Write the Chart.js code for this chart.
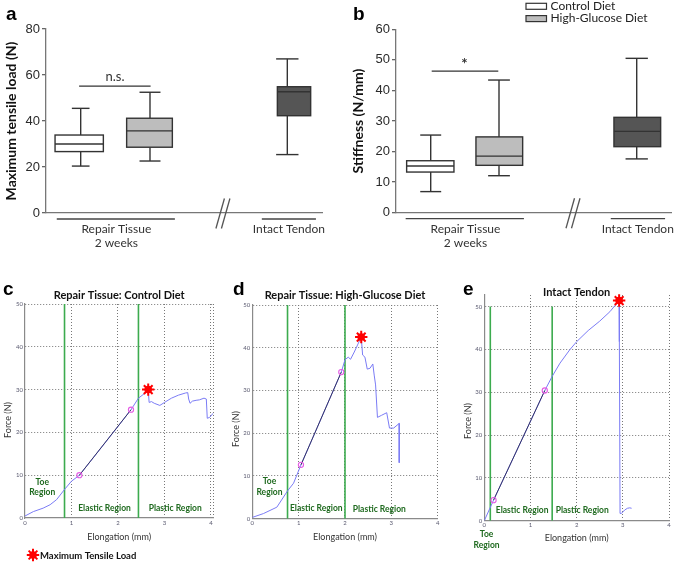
<!DOCTYPE html>
<html><head><meta charset="utf-8">
<script src="https://cdn.jsdelivr.net/npm/chart.js@4.4.1/dist/chart.umd.min.js"></script>
<style>
html,body{margin:0;padding:0;background:#fff;width:675px;height:563px;overflow:hidden;}
canvas{position:absolute;}
</style></head><body>
<canvas id="ca" style="left:0;top:0" width="335" height="260"></canvas>
<canvas id="cb" style="left:340px;top:0" width="335" height="260"></canvas>
<canvas id="cc" style="left:0;top:280px" width="230" height="283"></canvas>
<canvas id="cd" style="left:230px;top:280px" width="220" height="283"></canvas>
<canvas id="ce" style="left:450px;top:280px" width="225" height="283"></canvas>
<script>
// ================= DATA =================
const groupNames = ['Control Diet', 'High-Glucose Diet', 'Intact Tendon'];
const xGroupLabels = ['Repair Tissue\n2 weeks', 'Intact Tendon'];

// (a) Maximum tensile load (N)
const loadMin    = [20.4, 22.6, 25.4];
const loadQ1     = [26.7, 28.6, 42.3];
const loadMedian = [30.0, 35.7, 52.7];
const loadQ3     = [33.9, 41.2, 54.9];
const loadMax    = [45.5, 52.5, 67.0];
const loadTicks  = [0, 20, 40, 60, 80];
const loadSig    = {text: 'n.s.', value: 55.2, textValue: 59.3};

// (b) Stiffness (N/mm)
const stiffMin    = [6.9, 12.1, 17.6];
const stiffQ1     = [13.3, 15.5, 21.6];
const stiffMedian = [15.3, 18.5, 26.6];
const stiffQ3     = [17.0, 24.8, 31.2];
const stiffMax    = [25.4, 43.4, 50.5];
const stiffTicks  = [0, 10, 20, 30, 40, 50, 60];
const stiffSig    = {text: '*', value: 46.3, textValue: 48.6};

// (c-e) force-elongation curves
const elongTicks = [0, 1, 2, 3, 4];
const forceTicks = [0, 10, 20, 30, 40, 50];
const regionNames = ['Toe\nRegion', 'Elastic Region', 'Plastic Region'];
const peakLabel = 'Maximum Tensile Load';

const ctrlElong = [0, 0.18, 0.39, 0.54, 0.68, 0.86, 1.0, 1.17, 1.5, 1.9, 2.28, 2.44, 2.62, 2.65, 2.67, 2.72, 2.78, 2.9, 3.0, 3.15, 3.3, 3.45, 3.5, 3.52, 3.55, 3.6, 3.68, 3.75, 3.85, 3.9, 3.92, 3.97, 4.05];
const ctrlForce = [0.47, 1.5, 2.3, 3.1, 4.3, 6.8, 8.6, 10.0, 14.5, 20.0, 25.3, 28.0, 29.5, 30.0, 27.0, 27.2, 26.8, 26.3, 27.0, 28.0, 28.7, 29.2, 29.3, 27.8, 26.8, 27.3, 27.5, 27.6, 28.0, 27.8, 23.3, 23.5, 24.5];
const ctrlFitElong = [1.17, 2.28];
const ctrlFitForce = [10.0, 25.3];
const ctrlBounds = [0.85, 2.44];
const ctrlPeak = [2.65, 30.0];

const hgElong = [0, 0.24, 0.53, 0.76, 0.89, 1.05, 1.4, 1.7, 1.92, 2.0, 2.07, 2.12, 2.2, 2.35, 2.38, 2.43, 2.48, 2.54, 2.6, 2.63, 2.66, 2.7, 2.79, 2.9, 2.96, 3.05, 3.17, 3.17];
const hgForce = [0.3, 1.2, 2.7, 6.5, 8.3, 12.6, 21.3, 28.8, 34.3, 37.2, 37.8, 37.3, 39.0, 42.5, 38.3, 37.8, 35.0, 35.2, 36.2, 33.6, 31.3, 23.7, 24.2, 24.8, 21.2, 21.2, 22.3, 13.1];
const hgFitElong = [1.05, 1.92];
const hgFitForce = [12.6, 34.3];
const hgBounds = [0.76, 2.0];
const hgPeak = [2.35, 42.5];

const intElong = [0, 0.2, 0.5, 0.8, 1.1, 1.31, 1.47, 1.64, 1.85, 2.0, 2.25, 2.5, 2.72, 2.92, 2.925, 2.94, 2.97, 3.04, 3.1, 3.15, 3.19];
const intForce = [0, 4.8, 11.7, 18.6, 25.5, 30.4, 33.7, 36.8, 39.9, 41.8, 44.4, 46.6, 48.8, 51.4, 41.8, 1.7, 1.7, 2.5, 2.9, 3.0, 2.9];
const intFitElong = [0.2, 1.31];
const intFitForce = [4.8, 30.4];
const intBounds = [0.13, 1.47];
const intPeak = [2.92, 51.4];

// ================= STYLE / LAYOUT =================
const boxFills = ['#ffffff', '#bdbdbd', '#555555'];
const INK = '#333333';

const layoutA = {
  W: 335, H: 260, area: {l: 46, t: 29, r: 322, b: 213}, yTitlePad: 3.3,
  centers: [1.203, 3.75, 8.986], widths: [1.75, 1.656, 1.207],
  whiskerX: [1.257, 3.768, 8.743], capW: [0.64, 0.76, 0.81],
  sigFrom: 1.2, sigTo: 3.79, sigTextX: 2.5, sigFont: '13px Lato',
  groupLines: [[0.39, 4.67], [7.82, 9.78]], groupCenters: [2.55, 8.8], breakX: 6.41,
  letter: 'a', letterX: 6, letterY: 20, legend: false
};
const layoutB = {
  W: 335, H: 260, area: {l: 56, t: 29.3, r: 331.7, b: 212.7}, yTitlePad: 9.9,
  centers: [1.244, 3.747, 8.752], widths: [1.716, 1.694, 1.694],
  whiskerX: [1.259, 3.736, 8.731], capW: [0.76, 0.79, 0.81],
  sigFrom: 1.295, sigTo: 3.71, sigTextX: 2.48, sigFont: 'bold 15px Lato',
  groupLines: [[0.35, 4.64], [7.79, 9.76]], groupCenters: [2.52, 8.77], breakX: 6.42,
  letter: 'b', letterX: 13, letterY: 20, legend: true
};

function line(ctx, x1, y1, x2, y2) { ctx.beginPath(); ctx.moveTo(x1, y1); ctx.lineTo(x2, y2); ctx.stroke(); }

const boxPlugin = {
  id: 'boxes',
  afterDatasetsDraw(chart, args, o) {
    const {ctx, chartArea, scales: {x, y}} = chart;
    const L = o.layout, d = o.data;
    ctx.save();
    ctx.lineWidth = 1.4; ctx.strokeStyle = INK;
    for (let i = 0; i < d.median.length; i++) {
      const wx = x.getPixelForValue(L.whiskerX[i]);
      const cw = (x.getPixelForValue(L.capW[i]) - x.getPixelForValue(0)) / 2;
      line(ctx, wx, y.getPixelForValue(d.max[i]), wx, y.getPixelForValue(d.q3[i]));
      line(ctx, wx, y.getPixelForValue(d.q1[i]), wx, y.getPixelForValue(d.min[i]));
      line(ctx, wx - cw, y.getPixelForValue(d.max[i]), wx + cw, y.getPixelForValue(d.max[i]));
      line(ctx, wx - cw, y.getPixelForValue(d.min[i]), wx + cw, y.getPixelForValue(d.min[i]));
      const l = x.getPixelForValue(L.centers[i] - L.widths[i] / 2);
      const r = x.getPixelForValue(L.centers[i] + L.widths[i] / 2);
      const t = y.getPixelForValue(d.q3[i]), b = y.getPixelForValue(d.q1[i]);
      ctx.fillStyle = boxFills[i];
      ctx.fillRect(l, t, r - l, b - t);
      ctx.strokeRect(l, t, r - l, b - t);
      const m = y.getPixelForValue(d.median[i]);
      line(ctx, l, m, r, m);
    }
    // significance bar
    const sy = y.getPixelForValue(o.sig.value);
    ctx.lineWidth = 1.3;
    line(ctx, x.getPixelForValue(L.sigFrom), sy, x.getPixelForValue(L.sigTo), sy);
    ctx.fillStyle = INK; ctx.font = L.sigFont; ctx.textAlign = 'center'; ctx.textBaseline = 'middle';
    ctx.fillText(o.sig.text, x.getPixelForValue(L.sigTextX), y.getPixelForValue(o.sig.textValue));
    // group underlines and labels
    const by = chartArea.bottom;
    ctx.strokeStyle = '#444'; ctx.lineWidth = 1.3;
    L.groupLines.forEach(g => line(ctx, x.getPixelForValue(g[0]), by + 6, x.getPixelForValue(g[1]), by + 6));
    ctx.fillStyle = '#333'; ctx.font = '12px Lato';
    xGroupLabels.forEach((lab, i) => {
      lab.split('\n').forEach((t, j) => ctx.fillText(t, x.getPixelForValue(L.groupCenters[i]), by + 16.5 + j * 13.5));
    });
    // axis break marks
    const cx = x.getPixelForValue(L.breakX);
    ctx.strokeStyle = '#555'; ctx.lineWidth = 1.3;
    line(ctx, cx - 7, by + 15.5, cx + 1.5, by - 14.5);
    line(ctx, cx - 1.5, by + 15.5, cx + 7, by - 14.5);
    // panel letter
    ctx.fillStyle = '#000'; ctx.font = 'bold 19px "Liberation Sans"'; ctx.textAlign = 'left'; ctx.textBaseline = 'alphabetic';
    ctx.fillText(L.letter, L.letterX, L.letterY);
    // legend
    if (L.legend) {
      ctx.font = '12px Lato'; ctx.textBaseline = 'middle'; ctx.lineWidth = 1.2; ctx.strokeStyle = INK;
      [0, 1].forEach(i => {
        const yy = 6.3 + i * 12.3;
        ctx.fillStyle = boxFills[i];
        ctx.fillRect(186, yy - 3, 20.5, 6); ctx.strokeRect(186, yy - 3, 20.5, 6);
        ctx.fillStyle = '#222'; ctx.fillText(groupNames[i], 210.5, yy);
      });
    }
    ctx.restore();
  }
};

function boxChart(id, L, d, sig, ticks, yTitle) {
  const yMax = ticks[ticks.length - 1];
  return new Chart(document.getElementById(id), {
    type: 'scatter',
    data: {datasets: [{data: d.median.map((m, i) => ({x: L.centers[i], y: m})), pointRadius: 0, pointHoverRadius: 0}]},
    options: {
      responsive: false, animation: false, devicePixelRatio: 1, events: [],
      layout: {padding: {left: 0, top: L.area.t, right: L.W - L.area.r, bottom: 0}},
      plugins: {legend: {display: false}, tooltip: {enabled: false}, boxes: {layout: L, data: d, sig: sig}},
      scales: {
        x: {type: 'linear', min: 0, max: 10, ticks: {display: false}, grid: {display: false},
            border: {display: true, color: '#777', width: 1.3},
            afterFit: s => { s.height = L.H - L.area.b; }},
        y: {type: 'linear', min: 0, max: yMax,
            afterBuildTicks: s => { s.ticks = ticks.map(v => ({value: v})); },
            ticks: {font: {family: 'Liberation Sans', size: 13}, color: '#2a2a2a', padding: 2},
            grid: {drawOnChartArea: false, drawTicks: true, tickLength: 4, color: '#666', lineWidth: 1.3},
            border: {display: true, color: '#777', width: 1.3},
            title: {display: true, text: yTitle, color: '#111', font: {family: 'Lato', weight: 'bold', size: 14}, padding: {top: L.yTitlePad, bottom: 0}},
            afterFit: s => { s.width = L.area.l; }}
      }
    },
    plugins: [boxPlugin]
  });
}

boxChart('ca', layoutA, {min: loadMin, q1: loadQ1, median: loadMedian, q3: loadQ3, max: loadMax}, loadSig, loadTicks, 'Maximum tensile load (N)');
boxChart('cb', layoutB, {min: stiffMin, q1: stiffQ1, median: stiffMedian, q3: stiffQ3, max: stiffMax}, stiffSig, stiffTicks, 'Stiffness (N/mm)');

// ---------- curves ----------
const GREEN = '#3cab4e', BLUE = '#7b7cf5', FIT = '#2a2a55', PINK = '#e45be4', RED = '#ff0000', REGION = '#1f6a1f';

function drawStar(ctx, px, py) {
  ctx.save();
  ctx.fillStyle = RED; ctx.strokeStyle = RED;
  ctx.beginPath(); ctx.arc(px, py, 3.8, 0, Math.PI * 2); ctx.fill();
  ctx.lineWidth = 2;
  Chart.helpers.drawPoint(ctx, {pointStyle: 'star', radius: 6.2, borderWidth: 2, rotation: 0}, px, py);
  ctx.restore();
}

const curvePlugin = {
  id: 'curveDecor',
  afterDraw(chart, args, o) {
    const {ctx, chartArea, scales: {x, y}} = chart;
    ctx.save();
    ctx.fillStyle = '#000'; ctx.font = 'bold 19px "Liberation Sans"'; ctx.textAlign = 'left'; ctx.textBaseline = 'alphabetic';
    ctx.fillText(o.letter, o.letterX, 15);
    ctx.font = 'bold 11px Lato'; ctx.textAlign = 'center'; ctx.textBaseline = 'middle'; ctx.fillStyle = '#111';
    ctx.fillText(o.title, (chartArea.left + chartArea.right) / 2, o.titleY);
    ctx.save(); ctx.translate(o.yTitleX, o.yTitleY); ctx.rotate(-Math.PI / 2);
    ctx.font = '9px Lato'; ctx.fillStyle = '#333'; ctx.fillText('Force (N)', 0, 0); ctx.restore();
    ctx.fillStyle = REGION; ctx.font = 'bold 8.5px Lato';
    o.regions.forEach((r, i) => {
      regionNames[i].split('\n').forEach((t, j) => ctx.fillText(t, x.getPixelForValue(r[0]), y.getPixelForValue(r[1 + j])));
    });
    const pk = o.peak;
    drawStar(ctx, x.getPixelForValue(pk[0]), y.getPixelForValue(pk[1]));
    if (o.legend) {
      drawStar(ctx, 33, 275);
      ctx.fillStyle = '#111'; ctx.font = 'bold 9.5px Lato'; ctx.textAlign = 'left';
      ctx.fillText(peakLabel, 40, 275.5);
    }
    ctx.restore();
  }
};

function pts(xs, ys) { return xs.map((v, i) => ({x: v, y: ys[i]})); }

function curveChart(id, P) {
  const ds = [
    {data: pts(P.fitX, P.fitY), showLine: false, pointRadius: 2.6, pointStyle: 'circle', pointBorderColor: PINK, pointBackgroundColor: 'rgba(0,0,0,0)', pointBorderWidth: 1.1},
    {data: pts(P.fitX, P.fitY), showLine: true, borderColor: FIT, borderWidth: 0.9, pointRadius: 0},
    {data: pts(P.xs, P.ys), showLine: true, borderColor: BLUE, borderWidth: 1, pointRadius: 0, tension: 0},
    {data: [{x: P.bounds[0], y: 0}, {x: P.bounds[0], y: 50}], showLine: true, borderColor: GREEN, borderWidth: 1.6, pointRadius: 0},
    {data: [{x: P.bounds[1], y: 0}, {x: P.bounds[1], y: 50}], showLine: true, borderColor: GREEN, borderWidth: 1.6, pointRadius: 0}
  ];
  const gridColor = c => (c.tick && c.tick.value === 0) ? 'rgba(0,0,0,0)' : '#777';
  const tickFont = {family: 'Lato', size: 6};
  return new Chart(document.getElementById(id), {
    type: 'scatter',
    data: {datasets: ds},
    options: {
      responsive: false, animation: false, devicePixelRatio: 1, events: [],
      layout: {padding: {left: 0, top: P.area.t, right: P.W - P.area.r, bottom: 0}},
      plugins: {legend: {display: false}, tooltip: {enabled: false}, curveDecor: P},
      scales: {
        x: {type: 'linear', min: 0, max: P.xMax,
            afterBuildTicks: s => { const t = elongTicks.slice(); if (P.xMax > 4) t.push(P.xMax); s.ticks = t.map(v => ({value: v})); },
            ticks: {font: tickFont, color: '#5a5a70', padding: 1, autoSkip: false, maxRotation: 0, callback: v => elongTicks.includes(v) ? String(v) : ''},
            grid: {color: gridColor, lineWidth: 1, drawTicks: false},
            border: {display: true, color: '#8a8a8a', width: 1.2, dash: [1, 2]},
            title: {display: true, text: 'Elongation (mm)', color: '#333', font: {family: 'Lato', size: 9}, padding: {top: 0, bottom: P.xTitlePad}},
            afterFit: s => { s.height = P.H - P.area.b; }},
        y: {type: 'linear', min: 0, max: P.yMax,
            afterBuildTicks: s => { s.ticks = forceTicks.map(v => ({value: v})); },
            ticks: {font: tickFont, color: '#5a5a70', padding: 2},
            grid: {color: gridColor, lineWidth: 1, drawTicks: false},
            border: {display: true, color: '#8a8a8a', width: 1.2, dash: [1, 2]},
            afterFit: s => { s.width = P.area.l; }}
      }
    },
    plugins: [curvePlugin]
  });
}

curveChart('cc', {W: 230, H: 283, area: {l: 25, t: 24, r: 213.3, b: 238}, xMax: 4.05, yMax: 50, xTitlePad: 20.6,
  xs: ctrlElong, ys: ctrlForce, fitX: ctrlFitElong, fitY: ctrlFitForce, bounds: ctrlBounds, peak: ctrlPeak,
  letter: 'c', letterX: 3, title: 'Repair Tissue: Control Diet', titleY: 15, yTitleX: 8.3, yTitleY: 140,
  regions: [[0.37, 8.4, 6.0], [1.71, 2.2], [3.23, 2.2]], legend: true});
curveChart('cd', {W: 220, H: 283, area: {l: 22.3, t: 25, r: 207.7, b: 238.7}, xMax: 4, yMax: 50, xTitlePad: 20.3,
  xs: hgElong, ys: hgForce, fitX: hgFitElong, fitY: hgFitForce, bounds: hgBounds, peak: hgPeak,
  letter: 'd', letterX: 3, title: 'Repair Tissue: High-Glucose Diet', titleY: 15, yTitleX: 6, yTitleY: 149,
  regions: [[0.37, 8.7, 6.1], [1.38, 2.5], [2.74, 2.3]], legend: false});
curveChart('ce', {W: 225, H: 283, area: {l: 34.3, t: 15, r: 219, b: 240.7}, xMax: 4, yMax: 52.7, xTitlePad: 19.3,
  xs: intElong, ys: intForce, fitX: intFitElong, fitY: intFitForce, bounds: intBounds, peak: intPeak,
  letter: 'e', letterX: 13, title: 'Intact Tendon', titleY: 12.7, yTitleX: 18.3, yTitleY: 141,
  regions: [[0.05, -3.2, -5.7], [0.82, 2.5], [2.12, 2.5]], legend: false});
</script>
</body></html>
